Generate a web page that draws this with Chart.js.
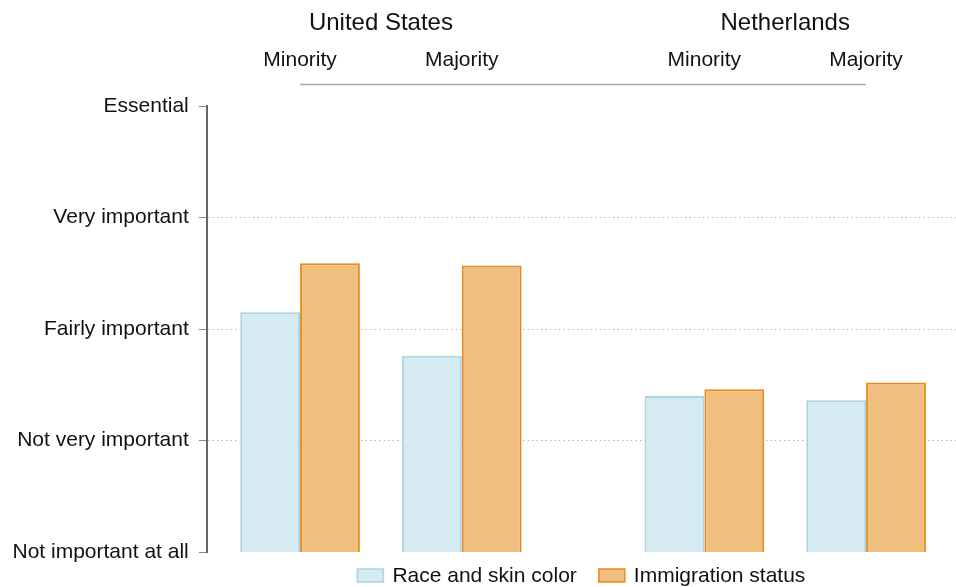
<!DOCTYPE html>
<html>
<head>
<meta charset="utf-8">
<script src="https://cdn.jsdelivr.net/npm/chart.js@4"></script>
<style>
  html, body { margin: 0; padding: 0; background: #fff; }
  #wrap { width: 956px; height: 587px; }
</style>
</head>
<body>
<div id="wrap"><canvas id="c" width="956" height="587"></canvas></div>
<script>
// ---- data ----
const countries = ["United States", "Netherlands"];
const groups = ["Minority", "Majority", "Minority", "Majority"];
const groupCountry = [0, 0, 1, 1];
const raceValues = [3.15, 2.76, 2.40, 2.36];
const immigrationValues = [3.59, 3.57, 2.46, 2.52];
const yTickLabels = ["Not important at all", "Not very important", "Fairly important", "Very important", "Essential"];
const seriesNames = ["Race and skin color", "Immigration status"];

// ---- layout helpers (positions on the x scale) ----
const groupPos = [0, 1, 2.5, 3.5];
const FONT = "'Liberation Sans', Arial, Helvetica, sans-serif";

function toPoints(vals) { return vals.map((v, i) => ({ x: groupPos[i], y: v })); }

const headerPlugin = {
  id: 'headers',
  afterDraw(chart) {
    const ctx = chart.ctx;
    const xs = chart.scales.x;
    ctx.save();
    ctx.fillStyle = '#111';
    ctx.textAlign = 'center';
    ctx.textBaseline = 'middle';
    // country titles
    ctx.font = '24px ' + FONT;
    countries.forEach((c, ci) => {
      const idx = groupCountry.map((g, i) => g === ci ? i : -1).filter(i => i >= 0);
      const px = idx.map(i => xs.getPixelForValue(groupPos[i]));
      const mid = (Math.min(...px) + Math.max(...px)) / 2;
      ctx.fillText(c, mid, 23.5);
    });
    // group labels
    ctx.font = '21px ' + FONT;
    groups.forEach((g, i) => {
      ctx.fillText(g, xs.getPixelForValue(groupPos[i]), 60.5);
    });
    // rule line
    ctx.strokeStyle = '#a8a8a8';
    ctx.lineWidth = 1.5;
    ctx.beginPath();
    ctx.moveTo(xs.getPixelForValue(groupPos[0]), 84.5);
    ctx.lineTo(xs.getPixelForValue(groupPos[groupPos.length - 1]), 84.5);
    ctx.stroke();

    // legend
    ctx.font = '21px ' + FONT;
    const boxW = 26, boxH = 13, gapText = 9, gapItem = 22;
    const items = chart.data.datasets.map(ds => ({
      label: ds.label, fill: ds.backgroundColor, stroke: ds.borderColor,
      w: boxW + gapText + ctx.measureText(ds.label).width
    }));
    const total = items.reduce((s, it) => s + it.w, 0) + gapItem * (items.length - 1);
    const ca = chart.chartArea;
    let x = (ca.left + ca.right) / 2 - total / 2;
    const cy = 575.5;
    ctx.textAlign = 'left';
    items.forEach(it => {
      ctx.fillStyle = it.fill;
      ctx.fillRect(x, cy - boxH / 2, boxW, boxH);
      ctx.strokeStyle = it.stroke;
      ctx.lineWidth = 1.5;
      ctx.strokeRect(x, cy - boxH / 2, boxW, boxH);
      ctx.fillStyle = '#111';
      ctx.fillText(it.label, x + boxW + gapText, cy + 1);
      x += it.w + gapItem;
    });
    ctx.restore();
  }
};

new Chart(document.getElementById('c'), {
  type: 'bar',
  data: {
    datasets: [
      {
        label: seriesNames[0],
        data: toPoints(raceValues),
        backgroundColor: '#d5ebf1',
        borderColor: '#aad6e4',
        borderWidth: 2,
        borderSkipped: false
      },
      {
        label: seriesNames[1],
        data: toPoints(immigrationValues),
        backgroundColor: '#f0bf80',
        borderColor: '#e98a1e',
        borderWidth: 2,
        borderSkipped: false
      }
    ]
  },
  options: {
    responsive: false,
    animation: false,
    devicePixelRatio: 1,
    categoryPercentage: 0.74,
    barPercentage: 1.0,
    layout: { padding: { top: 106, left: 2.5, right: 0, bottom: 35 } },
    plugins: {
      legend: { display: false },
      tooltip: { enabled: false },
      title: { display: false }
    },
    scales: {
      x: {
        type: 'linear',
        display: false,
        offset: false,
        min: -0.577,
        max: 4.056,
        afterBuildTicks: (s) => { s.ticks = groupPos.map(v => ({ value: v })); }
      },
      y: {
        min: 1,
        max: 5,
        ticks: {
          stepSize: 1,
          padding: 10,
          color: '#111',
          font: { family: FONT, size: 21 },
          callback: (v) => yTickLabels[Math.round(v) - 1]
        },
        grid: {
          color: (c) => (c.tick && (c.tick.value === 1 || c.tick.value === 5)) ? 'rgba(0,0,0,0)' : '#b8b8b8',
          lineWidth: 1,
          drawTicks: true,
          tickLength: 8,
          tickColor: '#8a8a8a',
          tickWidth: 1,
          tickBorderDash: []
        },
        border: { display: true, color: '#666', width: 2, dash: [1.5, 3] }
      }
    }
  },
  plugins: [headerPlugin]
});
</script>
</body>
</html>
